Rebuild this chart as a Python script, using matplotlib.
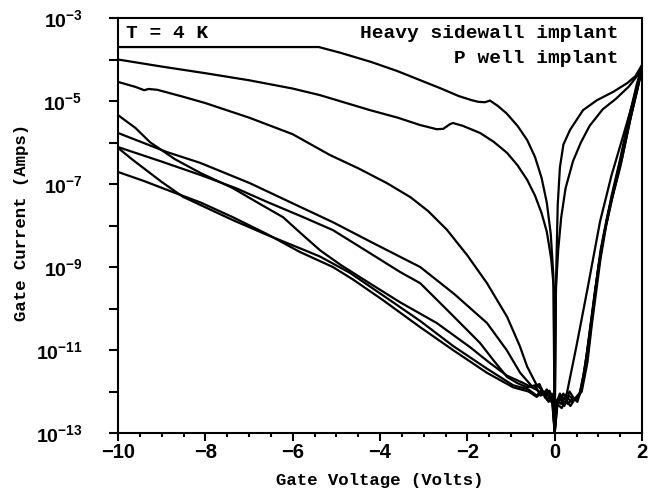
# Gate current vs gate voltage at 4 K, log scale, eight devices.

import numpy as np
import matplotlib.pyplot as plt
from matplotlib.ticker import FixedLocator, FixedFormatter, MultipleLocator

plt.rcParams['font.family'] = ['Liberation Mono', 'DejaVu Sans Mono']
plt.rcParams['font.weight'] = 'bold'
plt.rcParams['mathtext.fontset'] = 'custom'
plt.rcParams['mathtext.rm'] = 'Liberation Sans:bold'
plt.rcParams['mathtext.default'] = 'rm'

# Gate voltage (V) and log10 of the gate current (A), one pair per device.
v_a = [-10.0, -5.4, -4.9, -4.2, -3.6, -3.1, -2.6, -2.2, -1.9, -1.75, -1.6, -1.48,
       -1.3, -1.1, -0.85, -0.63, -0.45, -0.3, -0.18, -0.09, -0.03, 0.0, 0.03, 0.07,
       0.12, 0.2, 0.35, 0.65, 0.97, 1.34, 1.66, 1.85, 2.0]
log_a = [-3.70, -3.70, -3.84, -4.06, -4.28, -4.49, -4.70, -4.88, -4.98, -5.02, -5.03, -4.99,
         -5.12, -5.30, -5.60, -5.94, -6.35, -6.85, -7.45, -8.2, -9.2, -12.9, -9.4, -7.5,
         -6.6, -6.05, -5.70, -5.22, -4.98, -4.78, -4.57, -4.40, -4.13]

v_b = [-10.0, -9.0, -8.0, -7.0, -6.0, -5.37, -4.8, -4.23, -3.6, -3.08, -2.85, -2.7,
       -2.55, -2.4, -2.33, -2.1, -1.71, -1.4, -1.09, -0.85, -0.63, -0.45, -0.3, -0.18,
       -0.08, -0.02, 0.0, 0.03, 0.08, 0.15, 0.25, 0.42, 0.6, 0.8, 1.1, 1.4, 1.7, 1.9, 2.0]
log_b = [-4.00, -4.17, -4.33, -4.50, -4.70, -4.86, -5.04, -5.22, -5.40, -5.58, -5.64, -5.68,
         -5.67, -5.56, -5.53, -5.60, -5.77, -5.98, -6.25, -6.55, -6.90, -7.28, -7.70, -8.15,
         -8.8, -9.5, -12.9, -9.5, -8.6, -7.8, -7.1, -6.45, -6.0, -5.6, -5.2, -4.95, -4.65, -4.38, -4.16]

v_b2 = [-10.0, -9.6, -9.4, -9.3, -9.1, -8.5, -8.0, -7.0, -6.0, -5.15, -4.5, -3.84,
        -3.3, -2.9, -2.47, -2.0, -1.55, -1.09, -0.8, -0.63, -0.41, -0.3, -0.22, -0.12,
        -0.05, 0.0, 0.05, 0.12, 0.2, 0.28, 0.5, 0.76, 1.04, 1.3, 1.56, 1.8, 2.0]
log_b2 = [-4.54, -4.66, -4.74, -4.71, -4.73, -4.90, -5.05, -5.40, -5.80, -6.30, -6.62, -6.98,
          -7.32, -7.65, -8.10, -8.72, -9.39, -10.20, -10.90, -11.40, -11.85, -11.95, -12.15, -12.0,
          -12.3, -13.0, -12.25, -12.05, -12.2, -12.04, -10.9, -9.48, -7.9, -6.8, -5.87, -5.0, -4.18]

v_c = [-10.0, -9.6, -9.27, -8.7, -8.12, -7.37, -6.8, -6.22, -5.8, -5.37, -4.9, -4.3,
       -3.54, -2.7, -1.94, -1.5, -1.09, -0.75, -0.41, -0.28, -0.18, -0.08, -0.02, 0.0,
       0.04, 0.12, 0.22, 0.32, 0.45, 0.58, 0.7, 0.8, 0.9, 1.0, 1.12, 1.3, 1.5, 1.72, 1.9, 2.0]
log_c = [-5.34, -5.65, -5.99, -6.40, -6.73, -7.10, -7.45, -7.80, -8.20, -8.60, -8.95, -9.35,
         -9.85, -10.35, -10.93, -11.30, -11.62, -11.78, -11.96, -12.08, -11.95, -12.25, -12.1, -12.95,
         -12.3, -12.15, -12.35, -12.1, -12.2, -12.05, -11.4, -10.6, -9.8, -9.0, -8.25, -7.4, -6.6, -5.5, -4.7, -4.2]

v_d = [-10.0, -8.88, -8.12, -6.98, -5.83, -5.08, -4.2, -3.08, -2.3, -1.55, -1.1, -0.79,
       -0.5, -0.35, -0.25, -0.12, -0.04, 0.0, 0.05, 0.15, 0.25, 0.38, 0.5, 0.62,
       0.75, 0.85, 0.95, 1.05, 1.18, 1.35, 1.55, 1.75, 1.92, 2.0]
log_d = [-5.77, -6.23, -6.49, -6.98, -7.55, -7.92, -8.40, -9.00, -9.65, -10.35, -11.0, -11.55,
         -11.90, -11.82, -12.05, -11.98, -12.3, -12.9, -12.2, -12.3, -12.1, -12.25, -12.15, -12.0,
         -11.3, -10.4, -9.6, -8.8, -8.0, -7.2, -6.35, -5.35, -4.6, -4.2]

v_e = [-10.0, -9.0, -8.12, -7.3, -6.59, -5.8, -5.08, -4.3, -3.54, -3.08, -2.4, -1.71,
       -1.4, -1.09, -0.85, -0.63, -0.45, -0.32, -0.2, -0.1, -0.03, 0.0, 0.06, 0.14,
       0.24, 0.34, 0.46, 0.56, 0.66, 0.78, 0.88, 0.98, 1.1, 1.25, 1.45, 1.65, 1.85, 2.0]
log_e = [-6.11, -6.46, -6.78, -7.10, -7.43, -7.78, -8.11, -8.62, -9.12, -9.39, -10.10, -10.83,
         -11.25, -11.65, -11.80, -11.90, -11.85, -12.10, -12.0, -12.2, -12.05, -13.0, -12.35, -12.15,
         -12.3, -12.0, -12.2, -12.1, -11.6, -10.8, -10.0, -9.2, -8.4, -7.6, -6.7, -5.8, -4.85, -4.2]

v_f = [-10.0, -9.66, -9.0, -8.51, -7.37, -6.6, -5.83, -5.37, -4.69, -3.84, -3.08, -2.33,
       -1.55, -0.95, -0.6, -0.41, -0.3, -0.18, -0.07, 0.0, 0.04, 0.1, 0.2, 0.3,
       0.42, 0.52, 0.62, 0.72, 0.82, 0.92, 1.02, 1.15, 1.3, 1.5, 1.7, 1.88, 2.0]
log_f = [-6.13, -6.42, -6.95, -7.31, -7.87, -8.22, -8.55, -8.75, -9.14, -9.75, -10.30, -10.90,
         -11.45, -11.85, -11.95, -12.10, -11.95, -12.2, -12.05, -12.95, -12.4, -12.2, -12.05, -12.3,
         -12.15, -12.25, -11.9, -11.2, -10.4, -9.6, -8.9, -8.1, -7.3, -6.4, -5.4, -4.6, -4.15]

v_g = [-10.0, -9.4, -8.88, -8.1, -7.37, -6.6, -5.83, -5.08, -4.62, -3.93, -3.08, -2.33,
       -1.55, -0.95, -0.6, -0.41, -0.26, -0.14, -0.05, 0.0, 0.06, 0.16, 0.26, 0.36,
       0.48, 0.6, 0.7, 0.78, 0.86, 0.95, 1.05, 1.2, 1.4, 1.6, 1.8, 1.95, 2.0]
log_g = [-6.71, -6.93, -7.14, -7.45, -7.80, -8.20, -8.64, -9.00, -9.30, -9.80, -10.45, -11.00,
         -11.55, -11.90, -12.0, -12.13, -12.0, -12.25, -12.1, -13.0, -12.3, -12.4, -12.2, -12.35,
         -12.15, -12.0, -11.5, -10.9, -10.2, -9.4, -8.6, -7.8, -6.9, -6.0, -5.1, -4.45, -4.2]

curves = [(v_a, log_a), (v_b, log_b), (v_b2, log_b2), (v_c, log_c),
          (v_d, log_d), (v_e, log_e), (v_f, log_f), (v_g, log_g)]

decades = list(range(-13, -2))
decade_labels = [r'$10^{%d}$' % d if d % 2 else '' for d in decades]

fig = plt.figure(figsize=(6.48, 4.95), dpi=100)
ax = fig.add_axes([118 / 648, 62 / 495, 524 / 648, 415 / 495])

for v, logi in curves:
    ax.plot(v, 10.0 ** np.array(logi), color='black', linewidth=1.6)

ax.set_yscale('log')
ax.set_xlim(-10, 2)
ax.set_ylim(1e-13, 1e-3)

ax.yaxis.set_major_locator(FixedLocator([10.0 ** d for d in decades]))
ax.yaxis.set_major_formatter(FixedFormatter(decade_labels))
ax.yaxis.set_minor_locator(FixedLocator([]))
ax.xaxis.set_major_locator(MultipleLocator(2))
ax.xaxis.set_minor_locator(MultipleLocator(0.5))

ax.tick_params(axis='y', which='major', direction='out', length=6.5, width=1.5,
               pad=19, labelsize=14)
ax.tick_params(axis='x', which='major', direction='out', length=5.5, width=1.5,
               pad=2, labelsize=14.5, labelfontfamily='Liberation Sans')
ax.tick_params(axis='x', which='minor', direction='out', length=3, width=1.5)

for s in ax.spines.values():
    s.set_linewidth(1.5)

ax.text(0.015, 0.952, 'T = 4 K', transform=ax.transAxes, fontsize=14,
        ha='left', va='baseline')
ax.text(0.956, 0.952, 'Heavy sidewall implant', transform=ax.transAxes, fontsize=14,
        ha='right', va='baseline')
ax.text(0.956, 0.892, 'P well implant', transform=ax.transAxes, fontsize=14,
        ha='right', va='baseline')

fig.text(380 / 648, 1 - 481 / 495, 'Gate Voltage (Volts)', fontsize=12.5,
         ha='center', va='center')
fig.text(22 / 648, 1 - 222 / 495, 'Gate Current (Amps)', fontsize=12.5,
         ha='center', va='center', rotation=90)

plt.savefig('out.png', dpi=100)
